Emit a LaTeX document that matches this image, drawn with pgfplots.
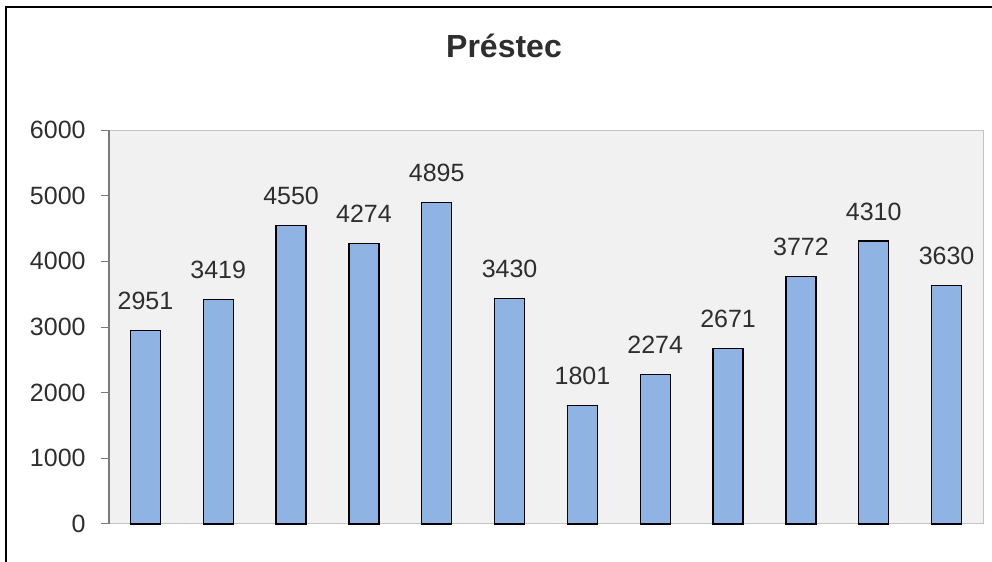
\documentclass[border=0pt]{standalone}
\usepackage{pgfplots}
\pgfplotsset{compat=1.18}
\usepackage{fontspec}
\setmainfont{Liberation Sans}
\definecolor{barfill}{HTML}{8FB4E4}
\definecolor{plotbg}{HTML}{F1F1F1}
\definecolor{framegrey}{HTML}{C4C4C4}
\definecolor{axisgrey}{HTML}{7A7A7A}
\definecolor{txt}{HTML}{2E2E2E}
\begin{document}
\begin{tikzpicture}
\useasboundingbox (-54.5pt,-19pt) rectangle (441.5pt,262pt);
\fill[white] (-54.5pt,-19pt) rectangle (441.5pt,262pt);
\begin{axis}[
  at={(0,0)}, anchor=south west,
  scale only axis, width=437pt, height=197pt,
  xmin=-0.5, xmax=11.5, ymin=0, ymax=6000,
  xtick=\empty,
  ytick={0,1000,2000,3000,4000,5000,6000},
  tickpos=left, tick align=outside,
  major tick length=4pt,
  tick style={draw=axisgrey, line width=0.5pt},
  axis line style={draw=framegrey, line width=0.5pt},
  axis background/.style={fill=plotbg},
  /pgf/number format/assume math mode=true,
  /pgf/number format/1000 sep={},
  yticklabel style={font=\fontsize{12.5}{14}\selectfont, text=txt, inner xsep=0pt, xshift=-7.5pt},
  ybar, bar width=15pt, bar shift=0pt,
  nodes near coords,
  nodes near coords style={font=\fontsize{12.5}{14}\selectfont, text=txt, inner sep=0pt, anchor=south, yshift=10pt},
  clip=false,
]
\addplot[fill=barfill, draw=black, line width=0.7pt] coordinates {
  (0,2951) (1,3419) (2,4550) (3,4274) (4,4895) (5,3430)
  (6,1801) (7,2274) (8,2671) (9,3772) (10,4310) (11,3630)
};
\draw[axisgrey, line width=0.6pt] (rel axis cs:0,0) -- (rel axis cs:0,1);
\end{axis}
\node[anchor=base, font=\bfseries\fontsize{16}{19}\selectfont, text=txt] at (197.5pt,233pt) {Préstec};
\draw[black, line width=1pt] (-51.5pt,-40pt) -- (-51.5pt,258.5pt) -- (480pt,258.5pt);
\end{tikzpicture}
\end{document}
